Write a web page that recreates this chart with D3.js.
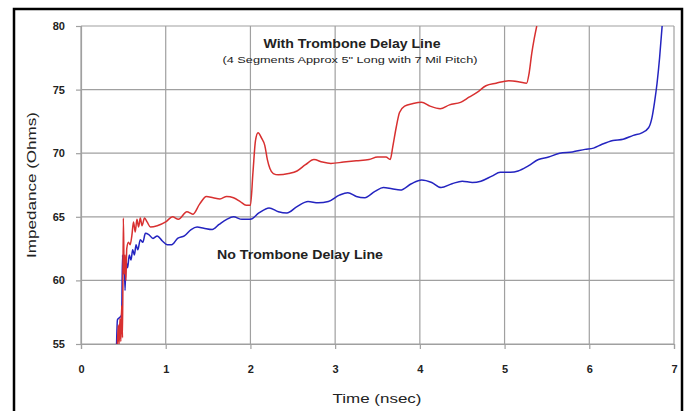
<!DOCTYPE html>
<html><head><meta charset="utf-8">
<script src="https://cdn.jsdelivr.net/npm/d3@7"></script>
<style>body{margin:0;background:#fff}svg{display:block}</style>
</head><body>
<svg id="c" width="688" height="411"></svg>
<script>
const xTicks = [0,1,2,3,4,5,6,7];
const yTicks = [55,60,65,70,75,80];
const withTrombone = [[0.43,55],[0.44,56.5],[0.45,55],[0.46,57],[0.47,55.2],[0.48,58],[0.49,55.5],[0.50,64.9],[0.51,60.5],[0.52,62.0],[0.53,60.0],[0.54,62.5],[0.56,63.0],[0.58,62.8],[0.60,63.5],[0.62,64.6],[0.64,63.8],[0.66,64.8],[0.68,64.2],[0.70,64.9],[0.72,64.3],[0.75,64.9],[0.78,64.6],[0.82,64.2],[0.90,64.3],[1.00,64.6],[1.08,65.0],[1.15,64.8],[1.25,65.4],[1.32,65.2],[1.40,66.0],[1.48,66.6],[1.56,66.5],[1.64,66.4],[1.72,66.6],[1.80,66.5],[1.88,66.2],[1.95,65.9],[2.00,65.9],[2.03,68.5],[2.06,71.0],[2.09,71.6],[2.13,71.2],[2.17,70.6],[2.20,69.5],[2.23,68.8],[2.27,68.4],[2.33,68.3],[2.45,68.4],[2.55,68.6],[2.65,69.1],[2.75,69.5],[2.85,69.3],[2.95,69.2],[3.10,69.3],[3.25,69.4],[3.40,69.5],[3.50,69.7],[3.60,69.7],[3.65,69.5],[3.68,70.5],[3.72,72.0],[3.76,73.2],[3.82,73.7],[3.92,73.9],[4.02,74.0],[4.12,73.7],[4.24,73.5],[4.35,73.8],[4.48,74.0],[4.58,74.4],[4.68,74.8],[4.78,75.3],[4.90,75.5],[5.05,75.7],[5.18,75.6],[5.26,75.5],[5.29,76.3],[5.32,77.8],[5.35,79.0],[5.38,80]];
const noTrombone = [[0.42,55],[0.43,56.9],[0.46,57.1],[0.48,57.3],[0.49,62.0],[0.50,60.5],[0.51,61.8],[0.52,59.2],[0.53,61.5],[0.55,61.0],[0.57,62.0],[0.59,61.6],[0.61,62.4],[0.63,62.0],[0.65,62.8],[0.67,62.4],[0.70,63.2],[0.73,63.0],[0.76,63.7],[0.80,63.6],[0.85,63.3],[0.90,63.5],[0.96,63.1],[1.02,62.8],[1.07,62.8],[1.14,63.3],[1.22,63.5],[1.30,64.0],[1.37,64.2],[1.45,64.1],[1.55,64.0],[1.63,64.4],[1.72,64.8],[1.80,65.0],[1.90,64.8],[2.00,64.8],[2.10,65.3],[2.22,65.7],[2.33,65.4],[2.43,65.3],[2.55,65.8],[2.68,66.2],[2.80,66.1],[2.92,66.2],[3.05,66.7],[3.15,66.9],[3.25,66.6],[3.35,66.5],[3.47,67.0],[3.57,67.3],[3.67,67.2],[3.77,67.1],[3.90,67.6],[4.02,67.9],[4.14,67.7],[4.25,67.3],[4.38,67.6],[4.50,67.8],[4.62,67.7],[4.72,67.8],[4.85,68.2],[4.95,68.5],[5.07,68.5],[5.16,68.6],[5.28,69.0],[5.40,69.5],[5.52,69.7],[5.65,70.0],[5.80,70.1],[5.95,70.3],[6.05,70.4],[6.15,70.7],[6.28,71.0],[6.40,71.1],[6.52,71.4],[6.62,71.6],[6.70,72.0],[6.74,72.8],[6.77,74.0],[6.80,75.5],[6.83,77.5],[6.86,80]];
const labels = {
  title1: "With Trombone Delay Line",
  title2: "(4 Segments Approx 5\" Long with 7 Mil Pitch)",
  noLine: "No Trombone Delay Line",
  xTitle: "Time (nsec)",
  yTitle: "Impedance (Ohms)"
};

const svg = d3.select("#c");
const font = "'Liberation Sans', Arial, sans-serif";
const L = 81, R = 674, T = 26, B = 344;
const x = d3.scaleLinear().domain([0,7]).range([L,R]);
const y = d3.scaleLinear().domain([55,80]).range([B,T]);

// outer frame
svg.append("rect").attr("x",14).attr("y",9).attr("width",668).attr("height",420)
  .attr("fill","none").attr("stroke","#000").attr("stroke-width",2.5);

// grid
const grid = svg.append("g").attr("stroke","#a0a0a0").attr("stroke-width",1.2);
grid.selectAll(".gx").data(xTicks).join("line")
  .attr("x1",d=>x(d)).attr("x2",d=>x(d)).attr("y1",T).attr("y2",B);
grid.selectAll(".gy").data(yTicks).join("line")
  .attr("x1",L).attr("x2",R).attr("y1",d=>y(d)).attr("y2",d=>y(d));

// axes
const xAxis = svg.append("g").attr("transform",`translate(0,${B})`)
  .call(d3.axisBottom(x).tickValues(xTicks).tickSize(5).tickPadding(16).tickFormat(d3.format("d")));
const yAxis = svg.append("g").attr("transform",`translate(${L},0)`)
  .call(d3.axisLeft(y).tickValues(yTicks).tickSize(5).tickPadding(11).tickFormat(d3.format("d")));
[xAxis,yAxis].forEach(a=>{
  a.select(".domain").attr("stroke","#a0a0a0").attr("stroke-width",1.2);
  a.selectAll(".tick line").attr("stroke","#a0a0a0").attr("stroke-width",1.2);
  a.selectAll("text").attr("font-family",font).attr("font-weight","bold")
    .attr("font-size",11).attr("fill","#222");
});

// clip
svg.append("clipPath").attr("id","pc").append("rect")
  .attr("x",L).attr("y",T).attr("width",R-L).attr("height",B-T);

const line = d3.line().x(d=>x(d[0])).y(d=>y(d[1])).curve(d3.curveMonotoneX);
const lines = svg.append("g").attr("clip-path","url(#pc)");
lines.append("path").datum(noTrombone).attr("d",line)
  .attr("fill","none").attr("stroke","#2424c0").attr("stroke-width",1.5);
lines.append("path").datum(withTrombone).attr("d",line)
  .attr("fill","none").attr("stroke","#d83030").attr("stroke-width",1.5);

// annotations
function txt(xp, yp, s, size, bold, len, rot){
  const t = svg.append("text").attr("text-anchor","middle")
    .attr("font-family",font).attr("font-size",size).attr("fill","#222")
    .attr("font-weight", bold ? "bold" : "normal")
    .attr("textLength",len).attr("lengthAdjust","spacingAndGlyphs").text(s);
  if (rot) t.attr("transform",`translate(${xp},${yp}) rotate(-90)`);
  else t.attr("x",xp).attr("y",yp);
  return t;
}
txt(352,48,labels.title1,12,true,177);
txt(350,63,labels.title2,9,false,255);
txt(300,259,labels.noLine,12,true,166);
txt(377,403,labels.xTitle,13,false,89);
txt(36,185,labels.yTitle,12,false,146,true);
</script>
</body></html>
